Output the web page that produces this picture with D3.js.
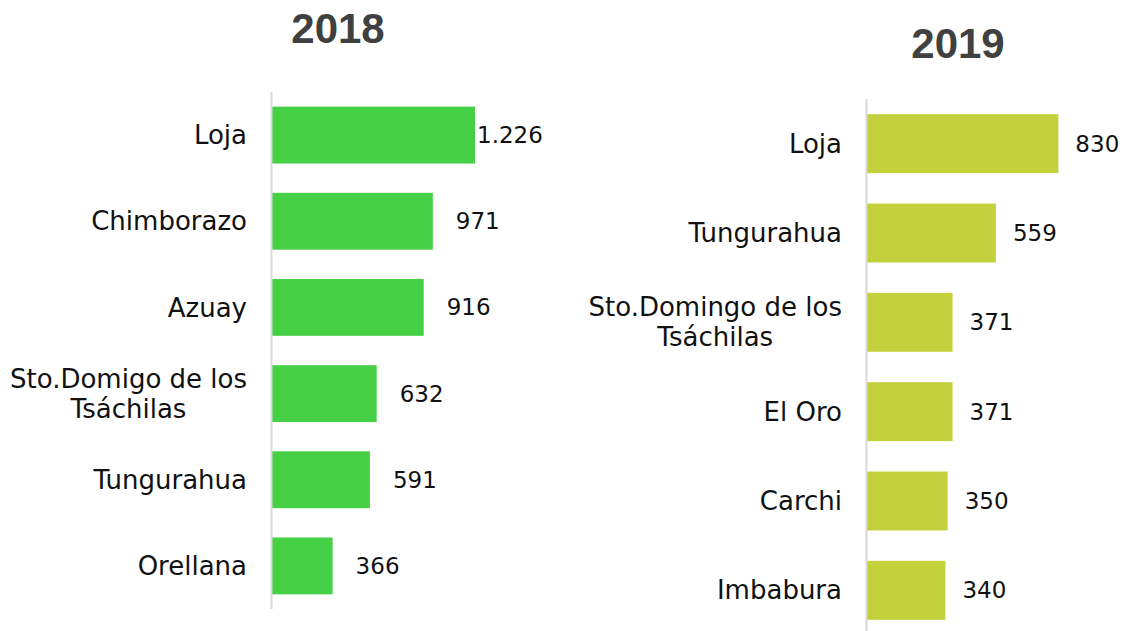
<!DOCTYPE html>
<html>
<head>
<meta charset="utf-8">
<script src="https://cdn.jsdelivr.net/npm/d3@7"></script>
<style>
    body { margin: 0; background: #fff; }
    svg { display: block; }
</style>
</head>
<body>
<svg id="chart" width="1137" height="631"></svg>
<script>
// data
const provinces2018 = ["Loja", "Chimborazo", "Azuay", "Sto.Domigo de los\nTsáchilas", "Tungurahua", "Orellana"];
const values2018 = [1226, 971, 916, 632, 591, 366];

const provinces2019 = ["Loja", "Tungurahua", "Sto.Domingo de los\nTsáchilas", "El Oro", "Carchi", "Imbabura"];
const values2019 = [830, 559, 371, 371, 350, 340];

const years = ["2018", "2019"];

const esLocale = d3.formatLocale({ decimal: ",", thousands: ".", grouping: [3], currency: ["$", ""] });
const fmt = esLocale.format(",d");

const svg = d3.select("#chart");

function drawPanel(cfg) {
    const g = svg.append("g");

    const x = d3.scaleLinear()
        .domain([0, cfg.xMax])
        .range([cfg.x0, cfg.x0 + cfg.xWidth]);

    const y = d3.scaleBand()
        .domain(cfg.names)
        .range([cfg.yTop, cfg.yBottom])
        .paddingInner(0.34)
        .paddingOuter(0.17);

    // title
    g.append("text")
        .attr("x", cfg.titleX)
        .attr("y", cfg.titleY)
        .attr("text-anchor", "middle")
        .style("font-family", "'Liberation Sans', Arial, sans-serif")
        .style("font-weight", "bold")
        .style("font-size", "42px")
        .style("fill", "#404040")
        .text(cfg.title);

    // bars
    g.selectAll(".bar")
        .data(cfg.values)
        .enter()
        .append("rect")
        .attr("class", "bar")
        .attr("x", x(0))
        .attr("y", (d, i) => y(cfg.names[i]))
        .attr("width", d => x(d) - x(0))
        .attr("height", y.bandwidth())
        .style("fill", cfg.color);

    // axis line
    g.append("line")
        .attr("x1", x(0) - 0.5)
        .attr("x2", x(0) - 0.5)
        .attr("y1", cfg.yTop)
        .attr("y2", cfg.yBottom)
        .style("stroke", "#d9d9d9")
        .style("stroke-width", 2);

    // category labels, wrapped lines centred on each other
    const labelRight = x(0) - 25;
    cfg.names.forEach(name => {
        const lines = name.split("\n");
        const cy = y(name) + y.bandwidth() / 2;
        const lineH = 30;
        const texts = lines.map((line, j) => g.append("text")
            .attr("y", cy + (j - (lines.length - 1) / 2) * lineH)
            .attr("dy", "0.35em")
            .style("font-family", "'DejaVu Sans', sans-serif")
            .style("font-size", "26px")
            .style("fill", "#111")
            .text(line));
        const maxW = d3.max(texts, t => t.node().getComputedTextLength());
        texts.forEach(t => t.attr("x", labelRight - maxW / 2).attr("text-anchor", "middle"));
    });

    // value labels, kept inside the panel's right edge
    cfg.values.forEach((v, i) => {
        const t = g.append("text")
            .attr("y", y(cfg.names[i]) + y.bandwidth() / 2)
            .attr("dy", "0.35em")
            .style("font-family", "'DejaVu Sans', sans-serif")
            .style("font-size", "23px")
            .style("fill", "#111")
            .text(fmt(v));
        const w = t.node().getComputedTextLength();
        const end = x(v);
        const lx = Math.max(end + 2, Math.min(end + cfg.labelGap, cfg.rightLimit - w));
        t.attr("x", lx);
    });
}

drawPanel({
    title: years[0], titleX: 338, titleY: 43,
    names: provinces2018, values: values2018,
    color: "#45d045",
    x0: 272, xMax: 1300, xWidth: 215.3,
    yTop: 92, yBottom: 609,
    labelGap: 23, rightLimit: 541
});

drawPanel({
    title: years[1], titleX: 958, titleY: 58,
    names: provinces2019, values: values2019,
    color: "#c3d13c",
    x0: 867, xMax: 900, xWidth: 207.5,
    yTop: 99, yBottom: 635,
    labelGap: 17, rightLimit: 1137
});
</script>
</body>
</html>
